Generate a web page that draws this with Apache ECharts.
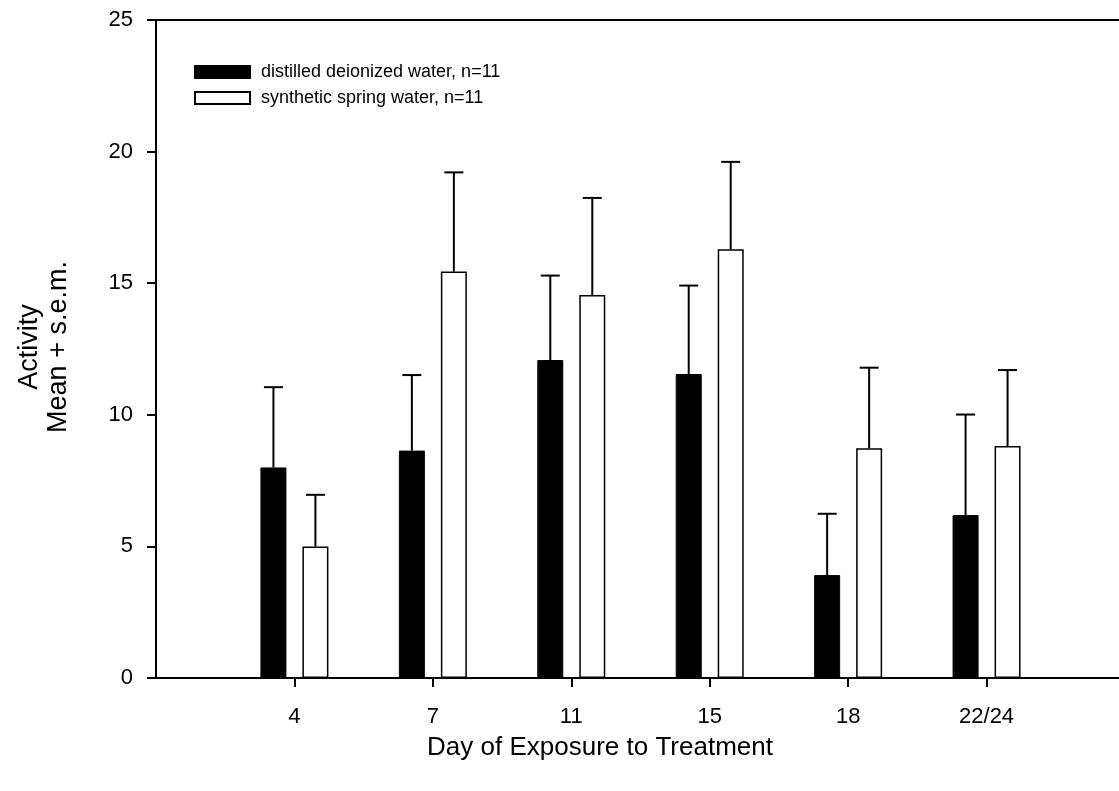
<!DOCTYPE html>
<html>
<head>
<meta charset="utf-8">
<script src="https://cdn.jsdelivr.net/npm/echarts@6/dist/echarts.min.js"></script>
<style>
  html, body { margin: 0; padding: 0; background: #fff; }
  #chart { width: 1119px; height: 791px; }
</style>
</head>
<body>
<div id="chart"></div>
<script>
// data
var days = ['4', '7', '11', '15', '18', '22/24'];
var ddwMean = [8.0, 8.64, 12.08, 11.55, 3.91, 6.19];
var ddwSem = [3.05, 2.87, 3.21, 3.36, 2.33, 3.82];
var sswMean = [5.0, 15.44, 14.55, 16.29, 8.73, 8.81];
var sswSem = [1.96, 3.77, 3.69, 3.32, 3.06, 2.89];
var ddwName = 'distilled deionized water, n=11';
var sswName = 'synthetic spring water, n=11';

var FONT = '"Liberation Sans", Arial, sans-serif';

// empty slot on each side so the days sit one step in from the ends
var categories = [''].concat(days, ['']);
function pad(arr) { return ['-'].concat(arr, ['-']); }
function errData(mean, sem) {
    return mean.map(function (m, i) { return [i + 1, m, sem[i]]; });
}

// mean + s.e.m. whisker, only upward
function errorBar(offset) {
    return function (params, api) {
        var idx = api.value(0);
        var x = api.coord([idx, 0])[0] + offset;
        var yBase = api.coord([idx, api.value(1)])[1];
        var yTop = api.coord([idx, api.value(1) + api.value(2)])[1];
        var st = { stroke: '#000', lineWidth: 2 };
        return {
            type: 'group',
            children: [
                { type: 'line', shape: { x1: x, y1: yBase, x2: x, y2: yTop }, style: st },
                { type: 'line', shape: { x1: x - 9.5, y1: yTop, x2: x + 9.5, y2: yTop }, style: st }
            ]
        };
    };
}

var myChart = echarts.init(document.getElementById('chart'), null, { renderer: 'canvas' });
var option = {
    animation: false,
    backgroundColor: '#fff',
    textStyle: { fontFamily: FONT, color: '#000' },
    grid: {
        left: 156, top: 20, width: 969, height: 658,
        outerBoundsMode: 'none',
        containLabel: false,
        show: true, borderColor: '#000', borderWidth: 2, backgroundColor: 'transparent'
    },
    legend: {
        data: [ddwName, sswName],
        orient: 'vertical',
        left: 189, top: 58,
        icon: 'rect',
        itemWidth: 55, itemHeight: 12, itemGap: 8,
        selectedMode: false,
        textStyle: { fontFamily: FONT, fontSize: 18, color: '#000', padding: [0, 0, 0, 6] }
    },
    xAxis: {
        type: 'category',
        data: categories,
        boundaryGap: false,
        axisLine: { lineStyle: { color: '#000', width: 2 } },
        axisTick: {
            length: 9, lineStyle: { color: '#000', width: 2 },
            interval: function (i, v) { return v !== ''; }
        },
        axisLabel: {
            fontFamily: FONT, fontSize: 22, color: '#000', margin: 28,
            interval: 0
        },
        splitLine: { show: false }
    },
    yAxis: {
        type: 'value',
        min: 0, max: 25, interval: 5,
        axisLine: { show: true, lineStyle: { color: '#000', width: 2 } },
        axisTick: { show: true, length: 9, lineStyle: { color: '#000', width: 2 } },
        axisLabel: { fontFamily: FONT, fontSize: 22, color: '#000', margin: 23 },
        splitLine: { show: false }
    },
    graphic: [
        {
            type: 'text', x: 600, y: 748,
            style: {
                text: 'Day of Exposure to Treatment', font: '26px ' + FONT, fill: '#000',
                align: 'center', verticalAlign: 'middle'
            }
        },
        {
            type: 'text', x: 44, y: 347, rotation: Math.PI / 2,
            style: {
                text: 'Activity\nMean + s.e.m.', font: '27px ' + FONT, fill: '#000',
                align: 'center', verticalAlign: 'middle', lineHeight: 29
            }
        }
    ],
    series: [
        {
            name: ddwName, type: 'bar', data: pad(ddwMean),
            barWidth: 26, barGap: '61.5%',
            itemStyle: { color: '#000', borderColor: '#000', borderWidth: 1 }
        },
        {
            name: sswName, type: 'bar', data: pad(sswMean),
            barWidth: 26,
            itemStyle: { color: '#fff', borderColor: '#000', borderWidth: 1.5 }
        },
        {
            type: 'custom', renderItem: errorBar(-21), data: errData(ddwMean, ddwSem), z: 5
        },
        {
            type: 'custom', renderItem: errorBar(21), data: errData(sswMean, sswSem), z: 5
        }
    ]
};
myChart.setOption(option);
window.addEventListener('resize', myChart.resize);
</script>
</body>
</html>
